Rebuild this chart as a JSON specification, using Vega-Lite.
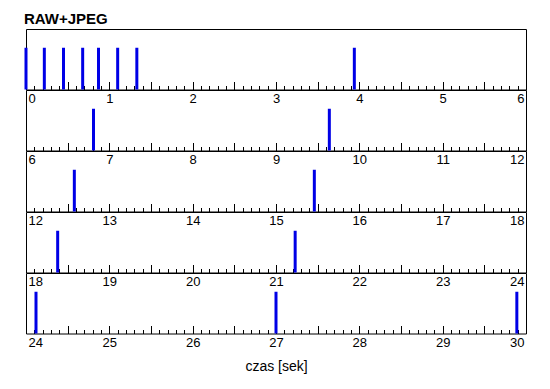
{
  "$schema": "https://vega.github.io/schema/vega-lite/v6.json",
  "padding": {"left": 24, "top": 11, "right": 24, "bottom": 5},
  "background": "white",
  "title": {"text": "RAW+JPEG", "anchor": "start", "fontSize": 15, "fontWeight": "bold", "font": "Liberation Sans", "color": "black", "offset": 2},
  "bounds": "flush",
  "spacing": 0,
  "config": {
    "view": {"stroke": "black", "strokeWidth": 1},
    "axis": {"labelFont": "Liberation Sans", "labelFontSize": 13, "labelColor": "black", "labelPadding": 3, "domainColor": "black", "tickColor": "black", "tickWidth": 1, "grid": false, "titleFont": "Liberation Sans", "titleFontSize": 14, "titleFontWeight": "normal", "titleColor": "black"}
  },
  "data": {"values": [
    {"t": 0.0, "panel": 1}, {"t": 0.22, "panel": 1}, {"t": 0.45, "panel": 1}, {"t": 0.68, "panel": 1},
    {"t": 0.87, "panel": 1}, {"t": 1.1, "panel": 1}, {"t": 1.33, "panel": 1}, {"t": 3.94, "panel": 1},
    {"t": 6.81, "panel": 2}, {"t": 9.64, "panel": 2},
    {"t": 12.58, "panel": 3}, {"t": 15.46, "panel": 3},
    {"t": 18.38, "panel": 4}, {"t": 21.23, "panel": 4},
    {"t": 24.12, "panel": 5}, {"t": 27.0, "panel": 5}, {"t": 29.89, "panel": 5}
  ]},
  "vconcat": [
    {
      "width": 500, "height": 60.5,
      "transform": [{"filter": "datum.panel == 1"}],
      "layer": [
        {"mark": {"type": "rule", "opacity": 0}, "encoding": {"x": {"field": "t", "type": "quantitative", "scale": {"domain": [0, 6], "nice": false, "zero": false}, "axis": {"orient": "bottom", "tickCount": 60, "tickSize": 4, "offset": -4, "labels": false, "domain": false, "title": null}}, "y": {"datum": 0, "type": "quantitative", "scale": {"domain": [0, 1]}, "axis": null}, "y2": {"datum": 0.1}}},
        {"mark": {"type": "rule", "opacity": 0}, "encoding": {"x": {"field": "t", "type": "quantitative", "axis": {"orient": "bottom", "tickCount": 12, "tickSize": 8, "offset": -8, "labels": false, "domain": false, "title": null}}, "y": {"datum": 0, "type": "quantitative"}, "y2": {"datum": 0.1}}},
        {"mark": {"type": "rule", "color": "#0000e6", "strokeWidth": 3}, "encoding": {"x": {"field": "t", "type": "quantitative", "axis": {"orient": "bottom", "tickCount": 6, "ticks": false, "domain": false, "labelFlush": true, "labelFlushOffset": -2, "title": null}}, "y": {"datum": 0, "type": "quantitative"}, "y2": {"datum": 0.69}}}
      ],
      "resolve": {"axis": {"x": "independent"}}
    },
    {
      "width": 500, "height": 60.5,
      "transform": [{"filter": "datum.panel == 2"}],
      "layer": [
        {"mark": {"type": "rule", "opacity": 0}, "encoding": {"x": {"field": "t", "type": "quantitative", "scale": {"domain": [6, 12], "nice": false, "zero": false}, "axis": {"orient": "bottom", "tickCount": 60, "tickSize": 4, "offset": -4, "labels": false, "domain": false, "title": null}}, "y": {"datum": 0, "type": "quantitative", "scale": {"domain": [0, 1]}, "axis": null}, "y2": {"datum": 0.1}}},
        {"mark": {"type": "rule", "opacity": 0}, "encoding": {"x": {"field": "t", "type": "quantitative", "axis": {"orient": "bottom", "tickCount": 12, "tickSize": 8, "offset": -8, "labels": false, "domain": false, "title": null}}, "y": {"datum": 0, "type": "quantitative"}, "y2": {"datum": 0.1}}},
        {"mark": {"type": "rule", "color": "#0000e6", "strokeWidth": 3}, "encoding": {"x": {"field": "t", "type": "quantitative", "axis": {"orient": "bottom", "tickCount": 6, "ticks": false, "domain": false, "labelFlush": true, "labelFlushOffset": -2, "title": null}}, "y": {"datum": 0, "type": "quantitative"}, "y2": {"datum": 0.69}}}
      ],
      "resolve": {"axis": {"x": "independent"}}
    },
    {
      "width": 500, "height": 60.5,
      "transform": [{"filter": "datum.panel == 3"}],
      "layer": [
        {"mark": {"type": "rule", "opacity": 0}, "encoding": {"x": {"field": "t", "type": "quantitative", "scale": {"domain": [12, 18], "nice": false, "zero": false}, "axis": {"orient": "bottom", "tickCount": 60, "tickSize": 4, "offset": -4, "labels": false, "domain": false, "title": null}}, "y": {"datum": 0, "type": "quantitative", "scale": {"domain": [0, 1]}, "axis": null}, "y2": {"datum": 0.1}}},
        {"mark": {"type": "rule", "opacity": 0}, "encoding": {"x": {"field": "t", "type": "quantitative", "axis": {"orient": "bottom", "tickCount": 12, "tickSize": 8, "offset": -8, "labels": false, "domain": false, "title": null}}, "y": {"datum": 0, "type": "quantitative"}, "y2": {"datum": 0.1}}},
        {"mark": {"type": "rule", "color": "#0000e6", "strokeWidth": 3}, "encoding": {"x": {"field": "t", "type": "quantitative", "axis": {"orient": "bottom", "tickCount": 6, "ticks": false, "domain": false, "labelFlush": true, "labelFlushOffset": -2, "title": null}}, "y": {"datum": 0, "type": "quantitative"}, "y2": {"datum": 0.69}}}
      ],
      "resolve": {"axis": {"x": "independent"}}
    },
    {
      "width": 500, "height": 60.5,
      "transform": [{"filter": "datum.panel == 4"}],
      "layer": [
        {"mark": {"type": "rule", "opacity": 0}, "encoding": {"x": {"field": "t", "type": "quantitative", "scale": {"domain": [18, 24], "nice": false, "zero": false}, "axis": {"orient": "bottom", "tickCount": 60, "tickSize": 4, "offset": -4, "labels": false, "domain": false, "title": null}}, "y": {"datum": 0, "type": "quantitative", "scale": {"domain": [0, 1]}, "axis": null}, "y2": {"datum": 0.1}}},
        {"mark": {"type": "rule", "opacity": 0}, "encoding": {"x": {"field": "t", "type": "quantitative", "axis": {"orient": "bottom", "tickCount": 12, "tickSize": 8, "offset": -8, "labels": false, "domain": false, "title": null}}, "y": {"datum": 0, "type": "quantitative"}, "y2": {"datum": 0.1}}},
        {"mark": {"type": "rule", "color": "#0000e6", "strokeWidth": 3}, "encoding": {"x": {"field": "t", "type": "quantitative", "axis": {"orient": "bottom", "tickCount": 6, "ticks": false, "domain": false, "labelFlush": true, "labelFlushOffset": -2, "title": null}}, "y": {"datum": 0, "type": "quantitative"}, "y2": {"datum": 0.69}}}
      ],
      "resolve": {"axis": {"x": "independent"}}
    },
    {
      "width": 500, "height": 60.5,
      "transform": [{"filter": "datum.panel == 5"}],
      "layer": [
        {"mark": {"type": "rule", "opacity": 0}, "encoding": {"x": {"field": "t", "type": "quantitative", "scale": {"domain": [24, 30], "nice": false, "zero": false}, "axis": {"orient": "bottom", "tickCount": 60, "tickSize": 4, "offset": -4, "labels": false, "domain": false, "title": null}}, "y": {"datum": 0, "type": "quantitative", "scale": {"domain": [0, 1]}, "axis": null}, "y2": {"datum": 0.1}}},
        {"mark": {"type": "rule", "opacity": 0}, "encoding": {"x": {"field": "t", "type": "quantitative", "axis": {"orient": "bottom", "tickCount": 12, "tickSize": 8, "offset": -8, "labels": false, "domain": false, "title": null}}, "y": {"datum": 0, "type": "quantitative"}, "y2": {"datum": 0.1}}},
        {"mark": {"type": "rule", "color": "#0000e6", "strokeWidth": 3}, "encoding": {"x": {"field": "t", "type": "quantitative", "axis": {"orient": "bottom", "tickCount": 6, "ticks": false, "domain": false, "labelFlush": true, "labelFlushOffset": -2, "title": "czas [sek]", "titlePadding": 10}}, "y": {"datum": 0, "type": "quantitative"}, "y2": {"datum": 0.69}}}
      ],
      "resolve": {"axis": {"x": "independent"}}
    }
  ]
}
